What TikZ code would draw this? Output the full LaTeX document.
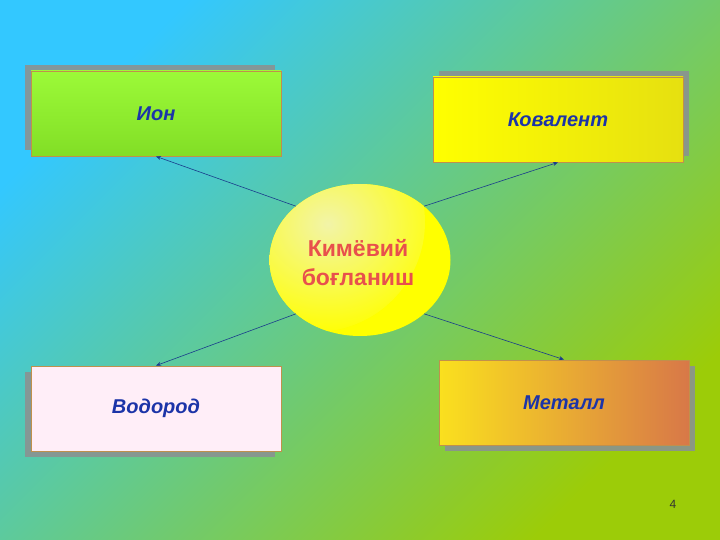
\documentclass[tikz,border=0pt]{standalone}
\usepackage{fontspec}
\setmainfont{Liberation Sans}
\usetikzlibrary{shapes.geometric,arrows.meta,shadows,calc}
\definecolor{bgA}{HTML}{33C8FF}
\definecolor{bgB}{HTML}{5CCA86}
\definecolor{bgC}{HTML}{9CCC08}
\definecolor{txtblue}{HTML}{1C34A8}
\definecolor{arrblue}{HTML}{1A3C8C}
\definecolor{boxedge}{HTML}{C0904C}
\definecolor{shadowgray}{HTML}{8A9292}
\definecolor{redtxt}{HTML}{E8504C}
\definecolor{ionA}{HTML}{9CFA38}
\definecolor{ionB}{HTML}{82DE26}
\definecolor{kovA}{HTML}{FFFF00}
\definecolor{kovB}{HTML}{E6E010}
\definecolor{vodF}{HTML}{FFEEF8}
\definecolor{metA}{HTML}{FAE01E}
\definecolor{metB}{HTML}{D87848}
\definecolor{ellY}{HTML}{FFFF00}
\definecolor{ellH}{HTML}{F2F4A8}
\begin{document}
\begin{tikzpicture}[x=1pt,y=-1pt,
  box/.style={rectangle, draw=boxedge, line width=0.8pt, minimum width=250pt, minimum height=85pt,
    inner sep=0pt, font=\fontsize{20}{24}\selectfont\bfseries\itshape, text=txtblue},
  arr/.style={draw=arrblue, line width=0.6pt, -{Stealth[length=5pt,width=4pt]}}
]
\useasboundingbox (0,0) rectangle (720,540);
\shade[top color=bgA, middle color=bgB, bottom color=bgC, shading angle=45] (0,0) rectangle (720,540);

\node[box, top color=ionA, bottom color=ionB,
  drop shadow={shadow xshift=-6pt, shadow yshift=6pt, fill=shadowgray, opacity=0.9}]
  (ion) at (156,113.5) {\raisebox{-2pt}{Ион}};
\node[box, left color=kovA, right color=kovB,
  drop shadow={shadow xshift=6pt, shadow yshift=6pt, fill=shadowgray, opacity=0.9}]
  (kov) at (558,119.5) {\raisebox{-2pt}{Ковалент}};
\node[box, fill=vodF,
  drop shadow={shadow xshift=-6pt, shadow yshift=-6pt, fill=shadowgray, opacity=0.9}]
  (vod) at (156,408.5) {\raisebox{-3pt}{Водород}};
\node[box, left color=metA, right color=metB,
  drop shadow={shadow xshift=6pt, shadow yshift=-6pt, fill=shadowgray, opacity=0.9}]
  (met) at (564,402.5) {\raisebox{-2pt}{Металл}};

\node[ellipse, minimum width=181pt, minimum height=152pt, inner sep=0pt, fill=ellY,
  path picture={\shade[inner color=ellH, outer color=ellY]
    ($(path picture bounding box.center)+(-45,-38)$) circle (110);}]
  (c) at (360,260) {};
\node[align=center, text=redtxt, font=\fontsize{23}{29}\selectfont\bfseries] (ct) at (358,263) {Кимёвий\\боғланиш};

\draw[arr] (c.140) -- (ion.south);
\draw[arr] (c.40) -- (kov.south);
\draw[arr] (c.220) -- (vod.north);
\draw[arr] (c.320) -- (met.north);

\node[text=black!80, font=\fontsize{12}{14}\selectfont] (pg) at (673,504) {4};
\end{tikzpicture}
\end{document}
